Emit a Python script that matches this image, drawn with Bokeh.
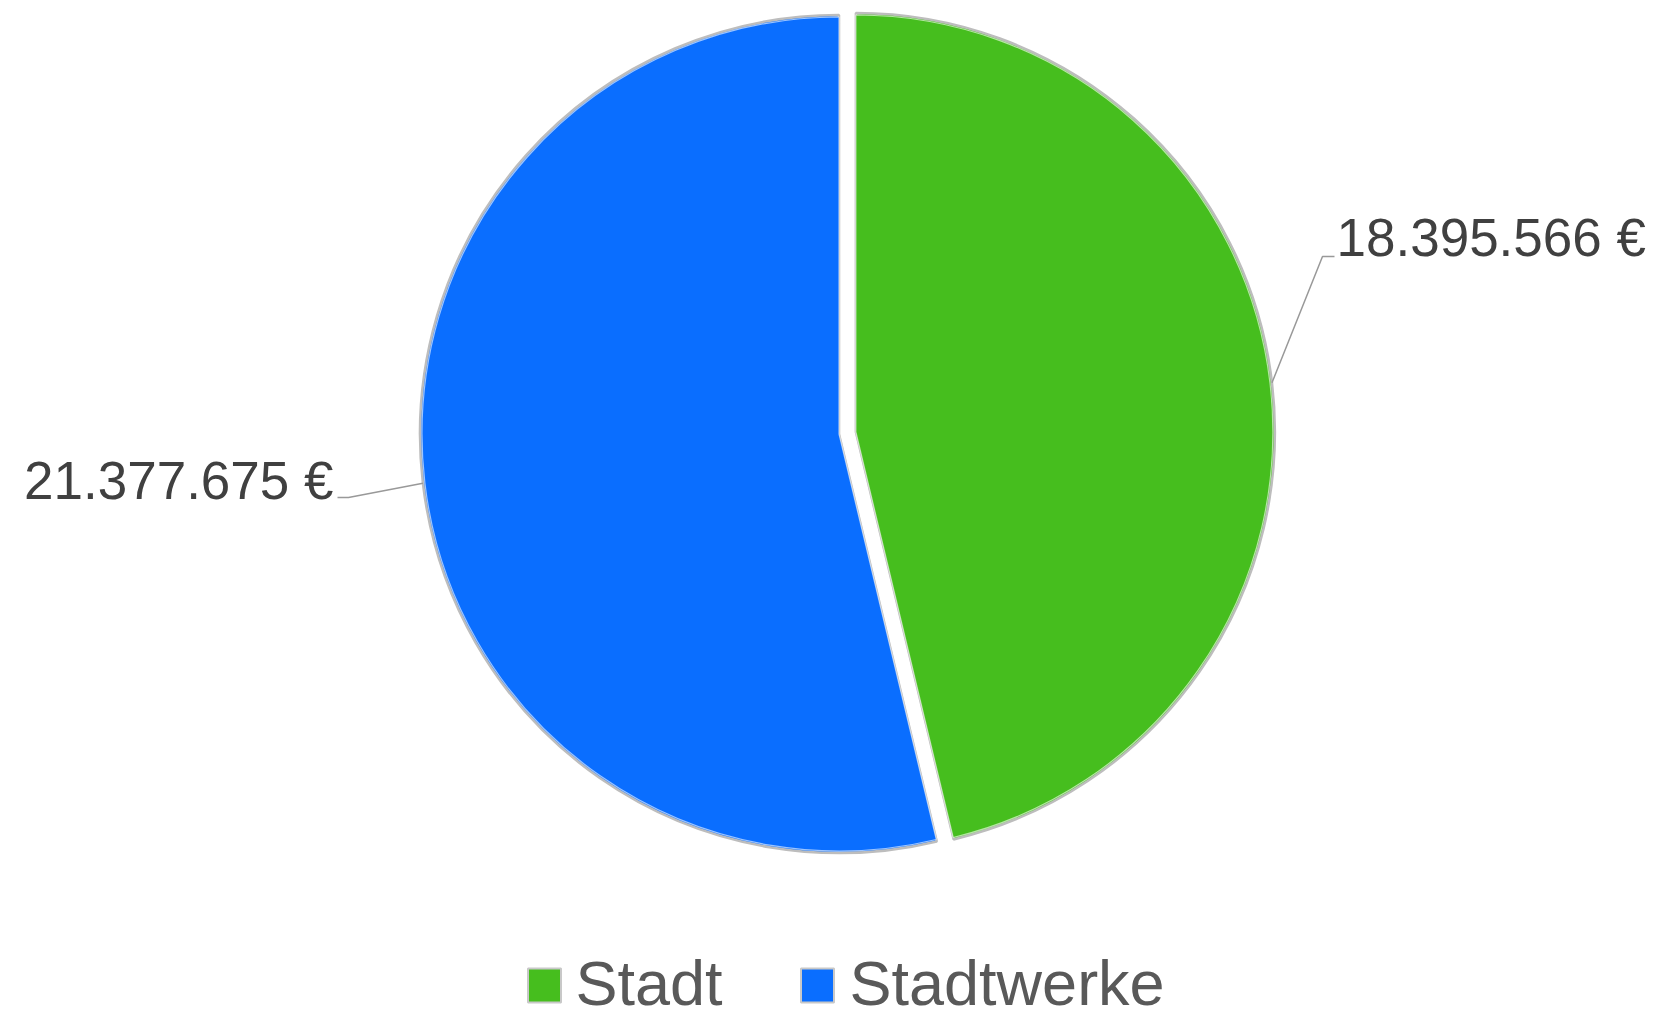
import math
from bokeh.plotting import figure
from bokeh.models import Range1d, ColumnDataSource
from bokeh.core.properties import value
from bokeh.embed import file_html
from bokeh.resources import INLINE

# ---- data ----
categories = ["Stadt", "Stadtwerke"]
amounts = [18395566, 21377675]
labels = ["18.395.566 €", "21.377.675 €"]
colors = ["#46BE1E", "#0A6EFF"]

# ---- layout (pixel space) ----
W, H = 1658, 1016
def sx(X):  # screen x -> data x
    return X
def sy(Y):  # screen y -> data y
    return H - Y

cx, cy = sx(838.5), sy(433.5)
R = 419
explode = [17, 0]

p = figure(width=W, height=H, output_backend="svg", toolbar_location=None,
           x_range=Range1d(0, W), y_range=Range1d(0, H), min_border=0)
p.frame_width = W
p.frame_height = H
p.axis.visible = False
p.grid.visible = False
p.outline_line_color = None
p.background_fill_color = "white"
p.border_fill_color = "white"

total = sum(amounts)
a = 90.0
starts, ends, xs, ys, mids = [], [], [], [], []
for v, e in zip(amounts, explode):
    sweep = v / total * 360.0
    a_end = a - sweep
    mid = math.radians((a + a_end) / 2)
    xs.append(cx + e * math.cos(mid))
    ys.append(cy + e * math.sin(mid))
    starts.append(math.radians(a_end))
    ends.append(math.radians(a))
    mids.append(mid)
    a = a_end

src = ColumnDataSource(dict(x=xs, y=ys, start=starts, end=ends, color=colors, cat=categories))
p.wedge(x="x", y="y", radius=R, start_angle="start", end_angle="end",
        fill_color="color", line_color="#bdbdbd", line_width=2.5, source=src)
p.wedge(x="x", y="y", radius=R - 2, start_angle="start", end_angle="end",
        fill_color="color", line_color="white", line_width=1.2, line_alpha=0.6, source=src)

# leader lines
elbows = [(sx(1322), sy(256), sx(1334)), (sx(348), sy(497), sx(337))]
for i in range(2):
    ex = xs[i] + R * math.cos(mids[i])
    ey = ys[i] + R * math.sin(mids[i])
    bx, by, tx = elbows[i]
    p.line([ex, bx, tx], [ey, by, by], line_color="#999999", line_width=1.5)

# value labels
p.text(x=[sx(1336)], y=[sy(237)], text=[labels[0]], text_font=value("Liberation Sans"),
       text_font_size="53px", text_color="#404040", text_baseline="alphabetic", text_align="left")
p.text(x=[sx(333)], y=[sy(480)], text=[labels[1]], text_font=value("Liberation Sans"),
       text_font_size="53px", text_color="#404040", text_baseline="alphabetic", text_align="right")

# legend
leg_sq_x = [sx(544), sx(817)]
leg_tx = [sx(575), sx(849)]
leg_y = sy(985)
p.rect(x=leg_sq_x, y=[leg_y, leg_y], width=33, height=34, fill_color=colors,
       line_color="#c8c8c8", line_width=2)
p.text(x=leg_tx, y=[sy(982)] * 2, text=categories, text_font=value("Liberation Sans"),
       text_font_size="63px", text_color="#595959", text_baseline="alphabetic", text_align="left")

open("out.html", "w").write(file_html(p, INLINE))
